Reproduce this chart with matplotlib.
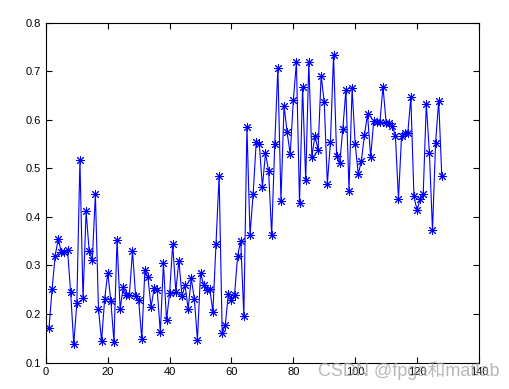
import numpy as np
import matplotlib
matplotlib.use("Agg")
import matplotlib.pyplot as plt

# values, one per sample (x = 1..128)
y_vals = [0.171, 0.251, 0.320, 0.355, 0.327, 0.328, 0.331, 0.245, 0.138, 0.222,
          0.517, 0.232, 0.411, 0.329, 0.311, 0.447, 0.210, 0.144, 0.231, 0.285,
          0.227, 0.143, 0.352, 0.210, 0.255, 0.240, 0.240, 0.330, 0.238, 0.228,
          0.148, 0.290, 0.276, 0.214, 0.253, 0.249, 0.162, 0.305, 0.187, 0.243,
          0.344, 0.246, 0.310, 0.237, 0.259, 0.210, 0.274, 0.230, 0.147, 0.285,
          0.260, 0.250, 0.251, 0.204, 0.344, 0.485, 0.161, 0.177, 0.242, 0.229,
          0.240, 0.320, 0.351, 0.196, 0.586, 0.363, 0.447, 0.554, 0.550, 0.462,
          0.531, 0.495, 0.363, 0.550, 0.706, 0.433, 0.629, 0.574, 0.529, 0.640,
          0.718, 0.428, 0.667, 0.475, 0.718, 0.524, 0.567, 0.538, 0.691, 0.636,
          0.468, 0.554, 0.733, 0.526, 0.510, 0.581, 0.661, 0.454, 0.665, 0.550,
          0.488, 0.515, 0.569, 0.611, 0.523, 0.598, 0.596, 0.596, 0.668, 0.594,
          0.594, 0.588, 0.567, 0.437, 0.567, 0.572, 0.572, 0.646, 0.442, 0.414,
          0.436, 0.447, 0.633, 0.531, 0.372, 0.553, 0.639, 0.485]
x_vals = np.arange(1, len(y_vals) + 1)

x_ticks = [0, 20, 40, 60, 80, 100, 120, 140]
y_ticks = [0.1, 0.2, 0.3, 0.4, 0.5, 0.6, 0.7, 0.8]

plt.rcParams['font.family'] = ['Liberation Sans', 'Noto Sans CJK SC', 'DejaVu Sans']

fig = plt.figure(figsize=(5.1, 3.89), dpi=100)
ax = fig.add_axes([0.090, 0.068, 0.849, 0.874])
# matlab-like '*' marker: 8-armed asterisk
ax.plot(x_vals, y_vals, '-', color='#0000ff', lw=0.8,
        marker=(8, 2, 0), ms=6.5, mew=0.7, mec='#0000ff')

ax.set_xlim(0, 140)
ax.set_ylim(0.1, 0.8)
ax.set_xticks(x_ticks)
ax.set_yticks(y_ticks)
ax.set_xticklabels([str(t) for t in x_ticks])
ax.set_yticklabels(['%.1f' % t for t in y_ticks])
ax.tick_params(direction='in', top=True, right=True, labelsize=8, length=4, width=0.8)
for s in ax.spines.values():
    s.set_linewidth(0.8)

# watermark
fig.text(0.98, 0.047, 'CSDN @fpga和matlab', ha='right', va='center',
         fontsize=13, color='#a0a0a0', alpha=0.75)

fig.savefig('out.png', dpi=100)
